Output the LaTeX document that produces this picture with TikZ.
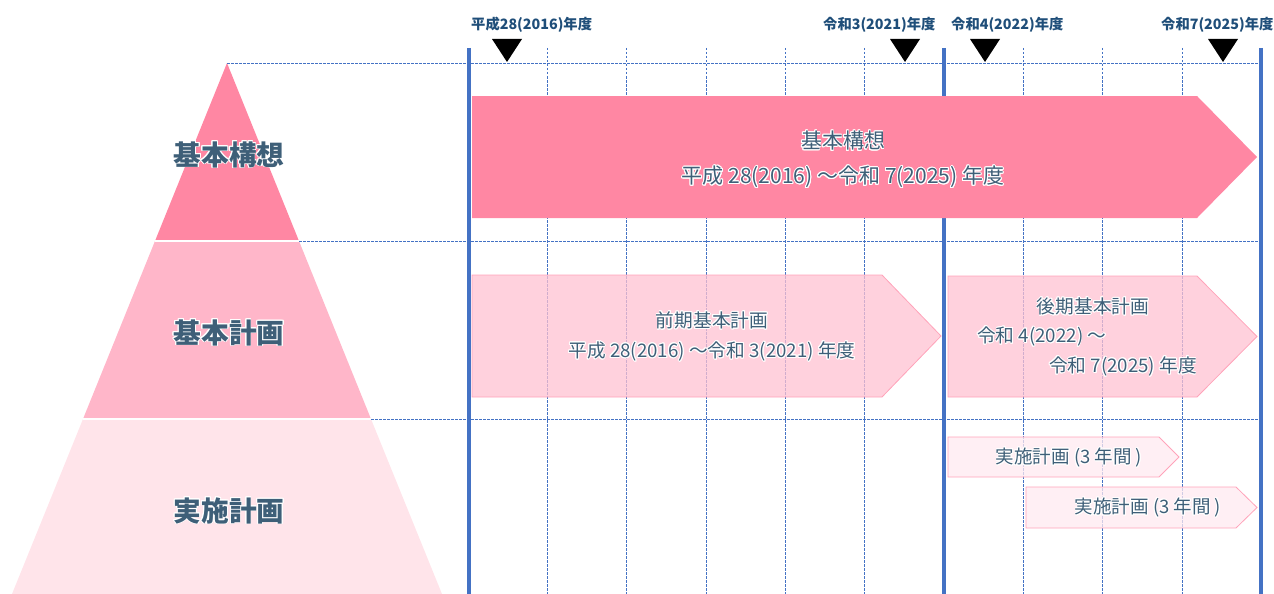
\documentclass[tikz,border=0pt]{standalone}
\usepackage{fontspec}
\setmainfont{Noto Sans CJK JP}
\usepackage{contour}
\contourlength{0.9pt}
\definecolor{gridblue}{HTML}{4472C4}
\definecolor{pinkA}{HTML}{FF87A3}
\definecolor{pinkB}{HTML}{FFB6C9}
\definecolor{pinkC}{HTML}{FFE4EA}
\definecolor{pinkLine}{HTML}{FFA3BA}
\definecolor{planfill}{HTML}{FFC2D1}
\definecolor{stepfill}{HTML}{FFEAF0}
\definecolor{labelblue}{HTML}{3E5F78}
\definecolor{yearblue}{HTML}{1F4E79}
\newcommand{\glow}[1]{\contour{white}{#1}}

\tikzset{
  grid line/.style={gridblue, line width=0.7pt, dash pattern=on 2.5pt off 1.5pt},
  year bar/.style={gridblue, line width=3.5pt},
  level label/.style={text=labelblue, font=\fontsize{27.7}{30}\selectfont\bfseries},
  year label/.style={text=yearblue, font=\fontsize{14.3}{16}\selectfont\bfseries, anchor=west, inner sep=0pt},
  plan arrow/.style={fill=planfill, fill opacity=0.75, draw=pinkLine, line width=0.8pt},
  step arrow/.style={fill=stepfill, fill opacity=0.75, draw=pinkLine, line width=0.8pt},
  plan text/.style={text=labelblue, font=\fontsize{18.7}{30}\selectfont, align=center, inner sep=0pt},
  step text/.style={text=labelblue, font=\fontsize{18.5}{20}\selectfont, inner sep=0pt},
}

\begin{document}
\begin{tikzpicture}[x=1pt,y=-1pt]
    \useasboundingbox (0,0) rectangle (1274,594);
    % pyramid
    \fill[pinkA] (227,63) -- (299,241) -- (155,241) -- cycle;
    \fill[pinkB] (155,241) -- (299,241) -- (371,419) -- (83,419) -- cycle;
    \fill[pinkC] (83,419) -- (371,419) -- (442,594) -- (12,594) -- cycle;
    \draw[white, line width=1.5pt] (155,241) -- (299,241);
    \draw[white, line width=1.5pt] (83,419) -- (371,419);

    \draw[grid line] (227,63) -- (1259,63);
    \draw[grid line] (299,241) -- (1259,241);
    \draw[grid line] (371,419) -- (1259,419);
    \foreach \x in {547,626,706,785,864,1023,1102,1182}
        \draw[grid line] (\x,48) -- (\x,594);
    \foreach \x in {469,944,1261}
        \draw[year bar] (\x,48) -- (\x,594);

    \foreach \x in {507,905,985,1223}
        \fill (\x-15,39) -- (\x+15,39) -- (\x,62) -- cycle;
    \node[year label] (y2016) at (471,25) {平成28(2016)年度};
    \node[year label] (y2021) at (823,25) {令和3(2021)年度};
    \node[year label] (y2022) at (951,25) {令和4(2022)年度};
    \node[year label] (y2025) at (1161,25) {令和7(2025)年度};

    \node[level label] (kousou) at (229,155) {\glow{基本構想}};
    \node[level label] (keikaku) at (229,333) {\glow{基本計画}};
    \node[level label] (jisshi) at (229,511) {\glow{実施計画}};

    \fill[pinkA] (472,96) -- (1197,96) -- (1257,157) -- (1197,218) -- (472,218) -- cycle;
    \node[plan text, font=\fontsize{21}{35}\selectfont] (kousoutxt) at (843,160)
        {\glow{基本構想}\\\glow{平成 28(2016) ～令和 7(2025) 年度}};

    \filldraw[plan arrow] (472,275) -- (882,275) -- (941,336) -- (882,397) -- (472,397) -- cycle;
    \node[plan text] (zenki) at (712,337)
        {\glow{前期基本計画}\\\glow{平成 28(2016) ～令和 3(2021) 年度}};

    \filldraw[plan arrow] (948,276) -- (1197,276) -- (1257,336.5) -- (1197,397) -- (948,397) -- cycle;
    \node[plan text] (kouki) at (1093,307) {\glow{後期基本計画}};
    \node[plan text, anchor=west] (koukifrom) at (977,337) {\glow{令和 4(2022) ～}};
    \node[plan text, anchor=east] (koukito) at (1197,367) {\glow{令和 7(2025) 年度}};

    \filldraw[step arrow] (948,437) -- (1159,437) -- (1179,457) -- (1159,477) -- (948,477) -- cycle;
    \node[step text] (step1) at (1069,458) {\glow{実施計画 (3 年間 )}};
    \filldraw[step arrow] (1026,487) -- (1236,487) -- (1257,507.5) -- (1236,528) -- (1026,528) -- cycle;
    \node[step text] (step2) at (1148,508) {\glow{実施計画 (3 年間 )}};
\end{tikzpicture}
\end{document}
